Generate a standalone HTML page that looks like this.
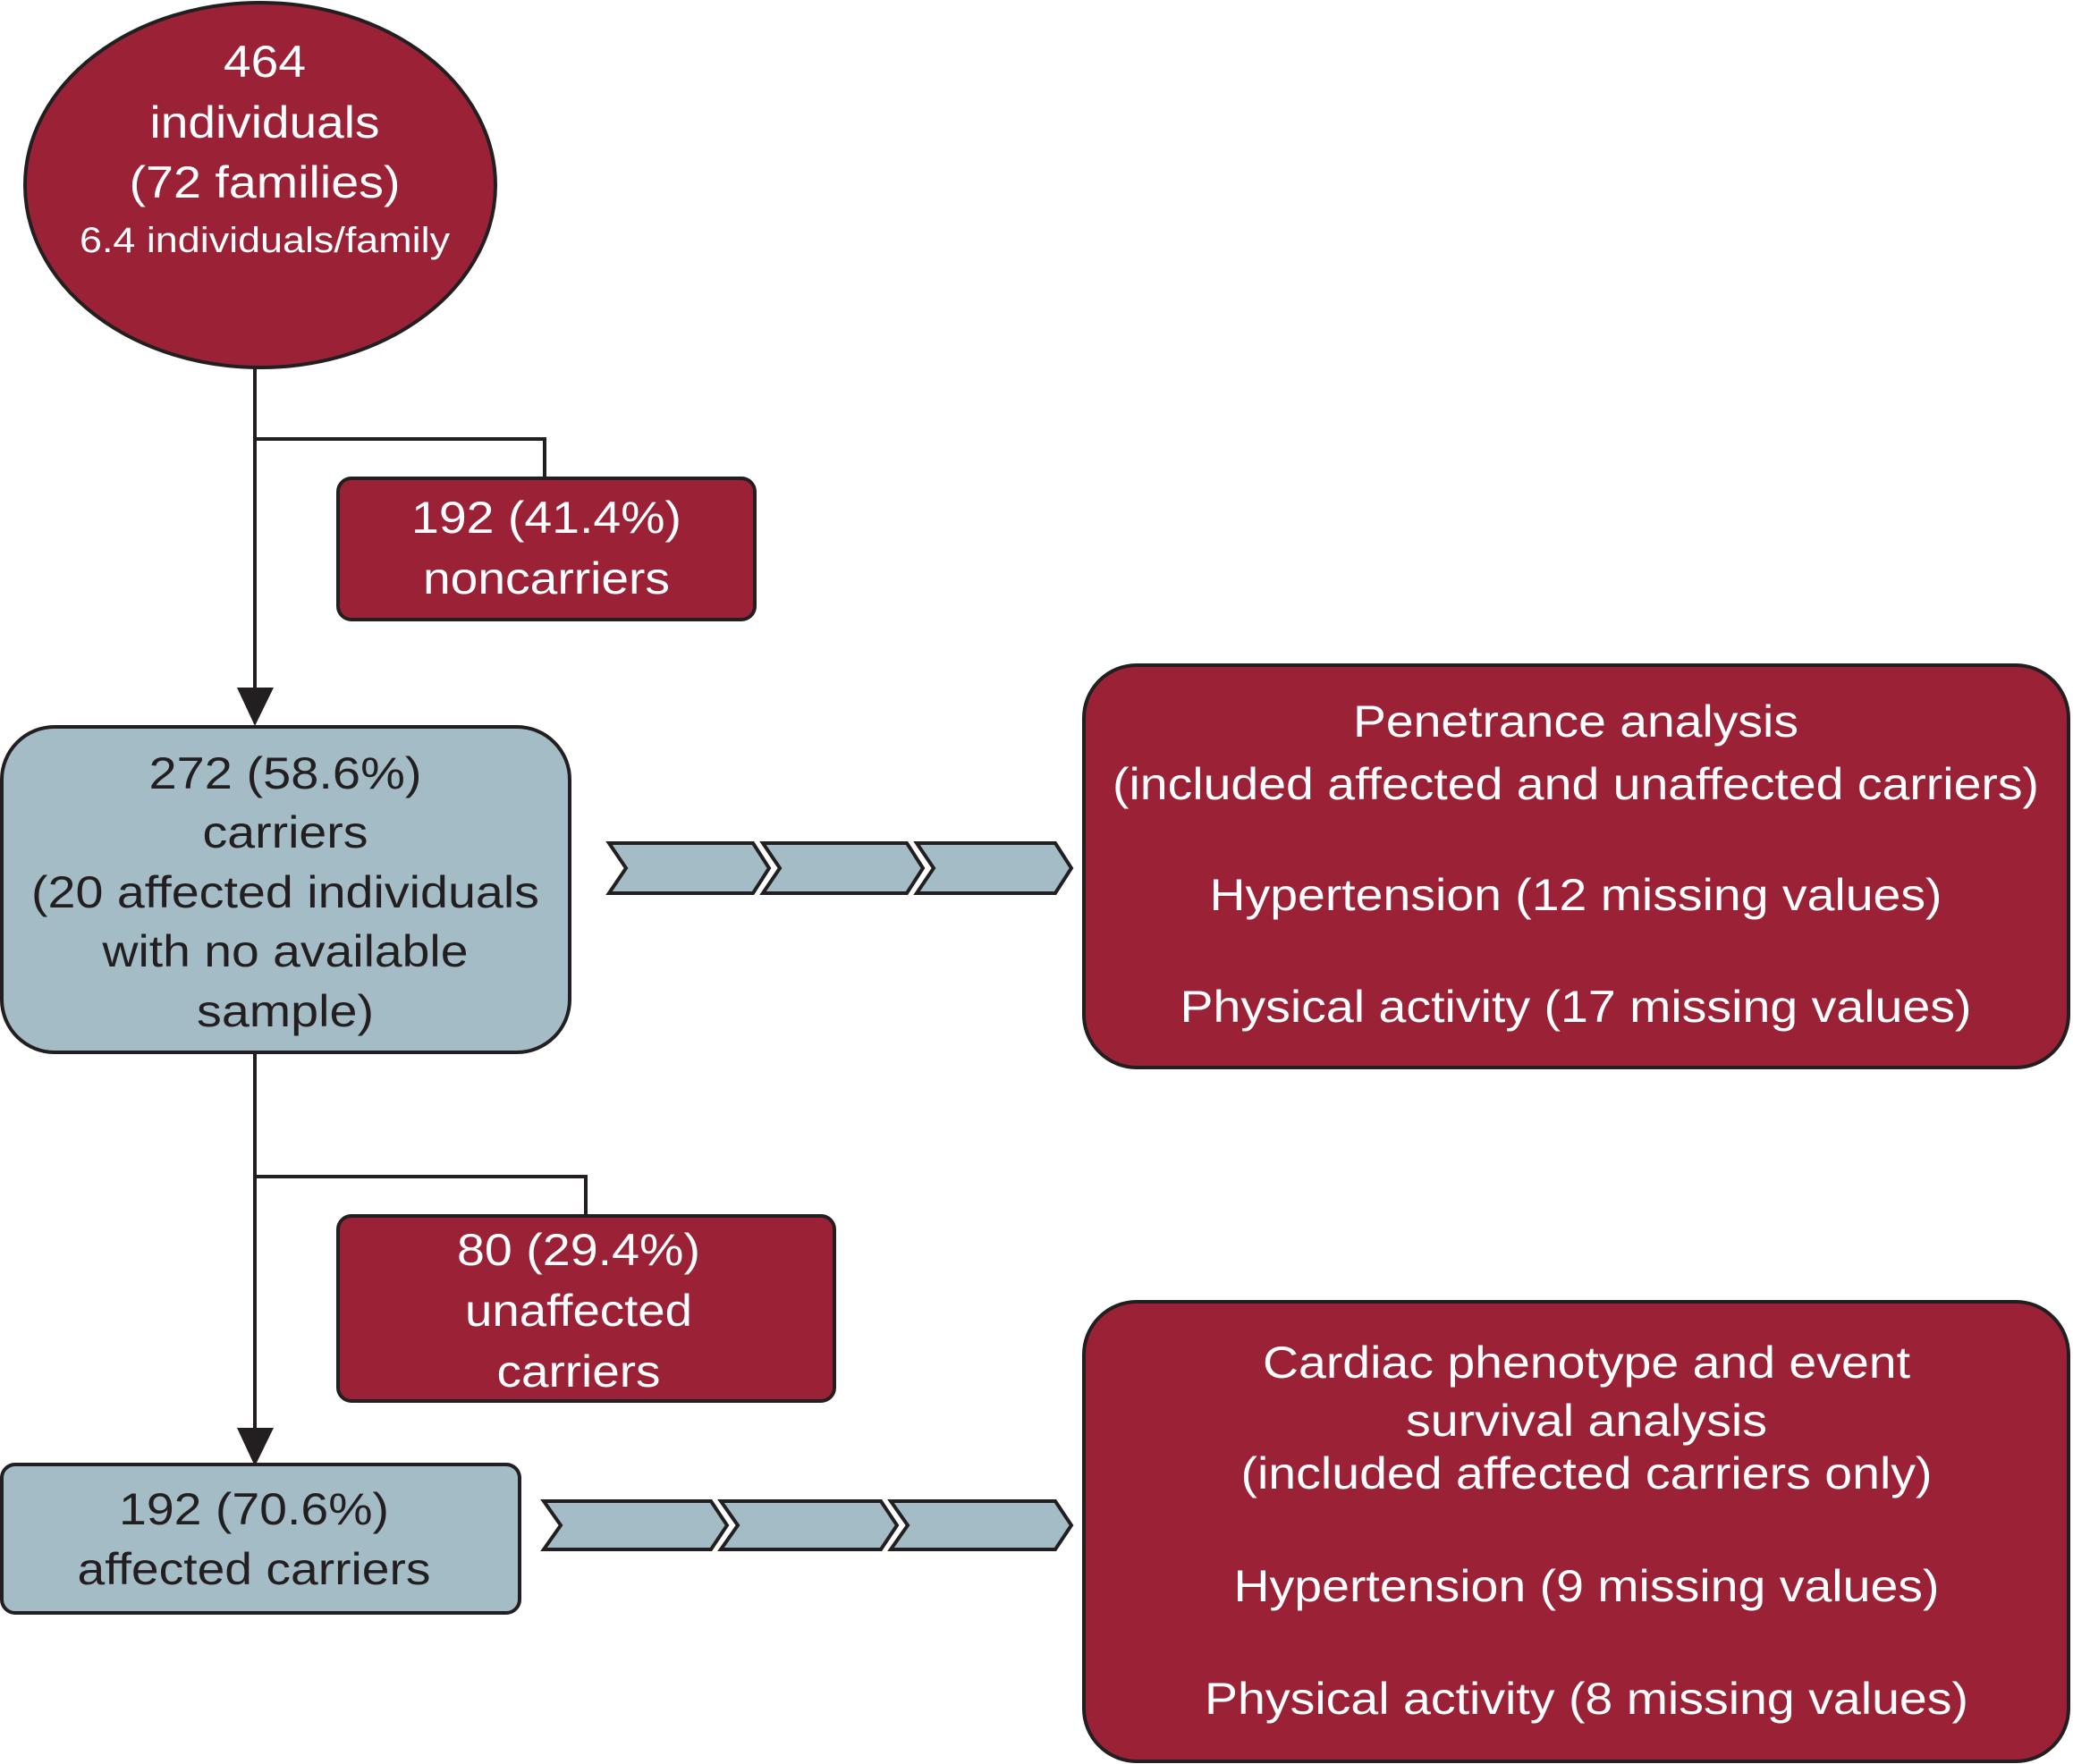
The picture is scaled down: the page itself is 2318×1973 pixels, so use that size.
<!DOCTYPE html>
<html><head><meta charset="utf-8"><style>html,body{margin:0;padding:0;background:#fff}svg{display:block}</style></head>
<body>
<svg width="2318" height="1973" viewBox="0 0 2318 1973" xmlns="http://www.w3.org/2000/svg" font-family="'Liberation Sans', Arial, sans-serif" font-size="50" text-anchor="middle">
<g stroke="#231f20" stroke-width="4" fill="none">
<line x1="285" y1="411" x2="285" y2="775"/>
<polyline points="285,491 609,491 609,535"/>
<line x1="285" y1="1177" x2="285" y2="1600"/>
<polyline points="285,1316 655,1316 655,1360"/>
</g>
<polygon points="265,769 306,769 285,812" fill="#231f20"/>
<polygon points="265,1597 306,1597 285,1640" fill="#231f20"/>
<g stroke="#231f20" stroke-width="4">
<ellipse cx="291" cy="207" rx="263" ry="204" fill="#9b2236"/>
<rect x="378" y="535" width="466" height="158" rx="15" fill="#9b2236"/>
<rect x="2" y="813" width="635" height="364" rx="59" fill="#a3bcc6"/>
<rect x="1212" y="744" width="1101" height="450" rx="59" fill="#9b2236"/>
<rect x="378" y="1360" width="555" height="207" rx="15" fill="#9b2236"/>
<rect x="2" y="1638" width="579" height="166" rx="15" fill="#a3bcc6"/>
<rect x="1212" y="1456" width="1101" height="514" rx="59" fill="#9b2236"/>
<g fill="#a3bcc6">
<polygon points="681,943 842,943 860,971 842,999 681,999 700,971"/>
<polygon points="853,943 1014,943 1032,971 1014,999 853,999 872,971"/>
<polygon points="1025,943 1180,943 1198,971 1180,999 1025,999 1044,971"/>
<polygon points="608,1679 795,1679 813,1706 795,1733 608,1733 627,1706"/>
<polygon points="806,1679 985,1679 1003,1706 985,1733 806,1733 825,1706"/>
<polygon points="996,1679 1180,1679 1198,1706 1180,1733 996,1733 1015,1706"/>
</g>
</g>
<g fill="#fff" lengthAdjust="spacingAndGlyphs">
<text x="296" y="86" textLength="92" lengthAdjust="spacingAndGlyphs">464</text>
<text x="296" y="154" textLength="257" lengthAdjust="spacingAndGlyphs">individuals</text>
<text x="296" y="221" textLength="303" lengthAdjust="spacingAndGlyphs">(72 families)</text>
<text x="296" y="282" font-size="40" textLength="414" lengthAdjust="spacingAndGlyphs">6.4 individuals/family</text>
<text x="611" y="596" textLength="302" lengthAdjust="spacingAndGlyphs">192 (41.4%)</text>
<text x="611" y="664" textLength="276" lengthAdjust="spacingAndGlyphs">noncarriers</text>
<text x="647" y="1415" textLength="272" lengthAdjust="spacingAndGlyphs">80 (29.4%)</text>
<text x="647" y="1483" textLength="254" lengthAdjust="spacingAndGlyphs">unaffected</text>
<text x="647" y="1551" textLength="183" lengthAdjust="spacingAndGlyphs">carriers</text>
<text x="1762" y="824" textLength="498" lengthAdjust="spacingAndGlyphs">Penetrance analysis</text>
<text x="1762" y="894" textLength="1036" lengthAdjust="spacingAndGlyphs">(included affected and unaffected carriers)</text>
<text x="1762" y="1018" textLength="819" lengthAdjust="spacingAndGlyphs">Hypertension (12 missing values)</text>
<text x="1762" y="1143" textLength="885" lengthAdjust="spacingAndGlyphs">Physical activity (17 missing values)</text>
<text x="1774" y="1541" textLength="724" lengthAdjust="spacingAndGlyphs">Cardiac phenotype and event</text>
<text x="1774" y="1606" textLength="404" lengthAdjust="spacingAndGlyphs">survival analysis</text>
<text x="1774" y="1665" textLength="773" lengthAdjust="spacingAndGlyphs">(included affected carriers only)</text>
<text x="1774" y="1791" textLength="789" lengthAdjust="spacingAndGlyphs">Hypertension (9 missing values)</text>
<text x="1774" y="1917" textLength="854" lengthAdjust="spacingAndGlyphs">Physical activity (8 missing values)</text>
</g>
<g fill="#231f20">
<text x="319" y="882" textLength="305" lengthAdjust="spacingAndGlyphs">272 (58.6%)</text>
<text x="319" y="948" textLength="185" lengthAdjust="spacingAndGlyphs">carriers</text>
<text x="319" y="1015" textLength="568" lengthAdjust="spacingAndGlyphs">(20 affected individuals</text>
<text x="319" y="1081" textLength="409" lengthAdjust="spacingAndGlyphs">with no available</text>
<text x="319" y="1148" textLength="198" lengthAdjust="spacingAndGlyphs">sample)</text>
<text x="284" y="1705" textLength="302" lengthAdjust="spacingAndGlyphs">192 (70.6%)</text>
<text x="284" y="1772" textLength="395" lengthAdjust="spacingAndGlyphs">affected carriers</text>
</g>
</svg>
</body></html>
